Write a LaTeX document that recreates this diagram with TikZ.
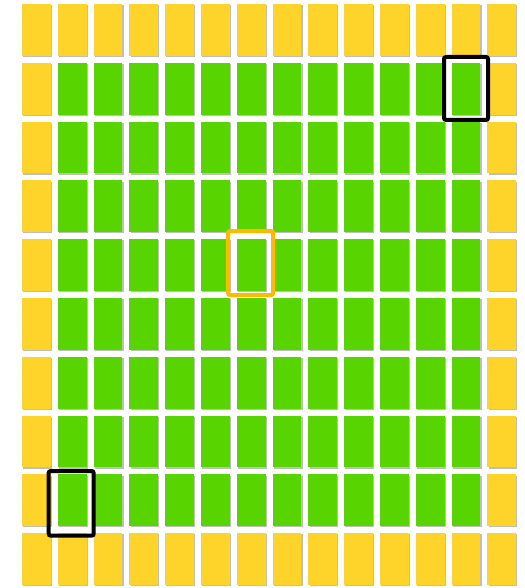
\documentclass[tikz,border=0pt]{standalone}
\definecolor{cellyellow}{RGB}{254,212,42}
\definecolor{cellgreen}{RGB}{88,212,0}
\definecolor{frameorange}{RGB}{255,185,0}
\definecolor{shadowgrey}{RGB}{190,190,190}
\tikzset{
  cellshadow/.style={fill=shadowgrey, draw=none},
  frameline/.style={line width=4pt, rounded corners=2pt}
}
\begin{document}
\begin{tikzpicture}[x=1pt,y=-1pt]
\useasboundingbox (0,0) rectangle (524,588);
\fill[white] (0,0) rectangle (524,588);
\foreach \c in {0,...,13}{
  \foreach \r in {0,...,9}{
    \pgfmathsetmacro{\xa}{22+\c*35.8}
    \pgfmathsetmacro{\ya}{4+\r*58.8}
    \pgfmathtruncatemacro{\border}{(\c==0)||(\c==13)||(\r==0)||(\r==9)}
    \ifnum\border=1 \def\cc{cellyellow}\else\def\cc{cellgreen}\fi
    \fill[cellshadow] (\xa+1.2,\ya+1.2) rectangle (\xa+30,\ya+53);
    \fill[\cc] (\xa,\ya) rectangle (\xa+28.8,\ya+51.8);
  }
}
\draw[frameline, black] (444,57) rectangle (488,120);
\draw[frameline, frameorange] (228,231) rectangle (273,295);
\draw[frameline, black] (48.7,471) rectangle (93.7,535.7);
\end{tikzpicture}
\end{document}
